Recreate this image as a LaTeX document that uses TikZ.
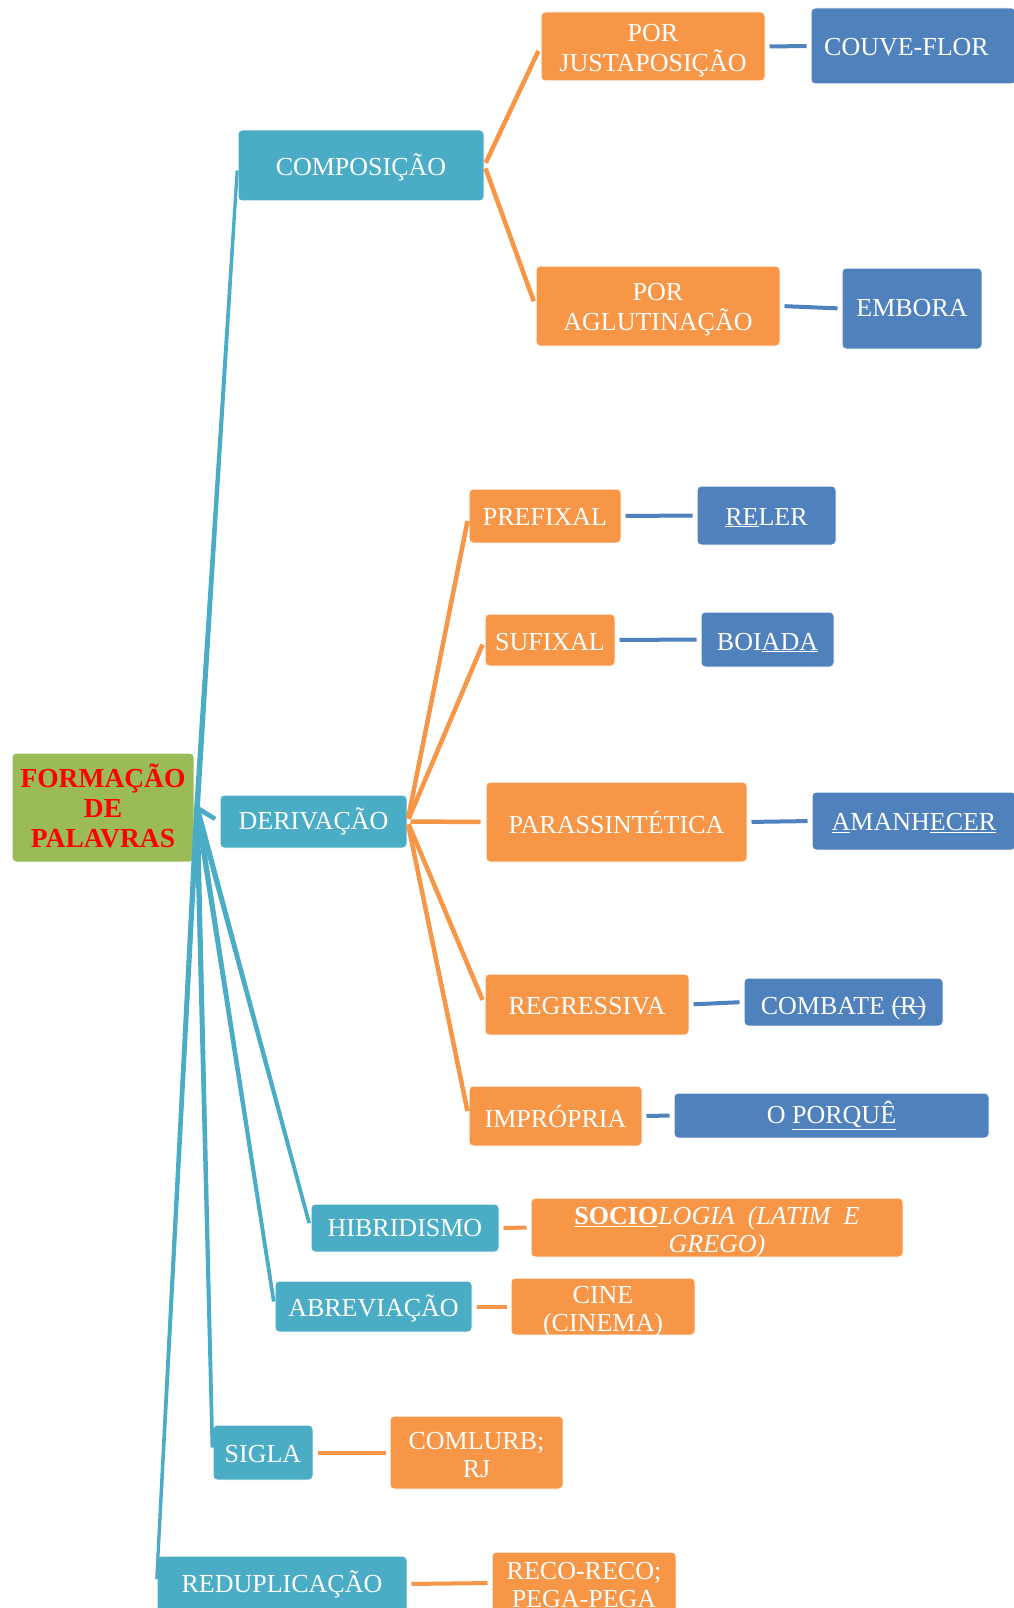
\documentclass[tikz,border=0pt]{standalone}
\usepackage{fontspec}
\setmainfont{Liberation Serif}
\usetikzlibrary{calc}
\definecolor{tealc}{HTML}{4BACC6}
\definecolor{orangec}{HTML}{F79646}
\definecolor{bluec}{HTML}{4F81BD}
\definecolor{greenc}{HTML}{9BBB59}
\definecolor{redc}{HTML}{FF0000}
\newcommand\mystrk[1]{\setbox0\hbox{#1}\rlap{\rule[0.28em]{\wd0}{0.07em}}\box0}
\newcommand\lowr[2][4pt]{\raisebox{-#1}[\height][\depth]{\begin{tabular}{@{}c@{}}#2\end{tabular}}}
% tapered connector: colour, from, to, half width at start, half width at end
\newcommand\taper[5]{%
  \coordinate (tA) at (#2);
  \coordinate (tB) at ($(#3)!5pt!(#2)$);
  \fill[#1] ($(tA)!#4!90:(tB)$) -- ($(tA)!#4!-90:(tB)$) -- ($(tB)!#5!90:(tA)$) -- ($(tB)!#5!-90:(tA)$) -- cycle;}
\tikzset{
  basebox/.style={rounded corners=4pt, draw=white, line width=1pt, text=white,
    inner sep=0pt, align=center, font=\fontsize{26}{28}\selectfont},
  tealbox/.style={basebox, fill=tealc},
  orbox/.style={basebox, fill=orangec},
  bluebox/.style={basebox, fill=bluec},
  rootbox/.style={basebox, fill=greenc, text=redc, font=\fontsize{27.5}{30}\selectfont\bfseries},
  oline/.style={draw=orangec, line width=4.5pt, shorten >=5pt, shorten <=3pt},
  bline/.style={draw=bluec, line width=4pt, shorten >=4pt, shorten <=4pt},
  ocon/.style={draw=orangec, line width=4pt, shorten >=4pt, shorten <=4pt},
}
\begin{document}
\begin{tikzpicture}[x=1pt,y=-1pt]
\useasboundingbox[fill=white] (0,0) rectangle (1014,1608);

% root
\node[rootbox, minimum width=182pt, minimum height=109pt] (root) at (103,807.5) {\lowr[3pt]{FORMAÇÃO\\DE\\PALAVRAS}};

% teal level
\node[tealbox, minimum width=246pt, minimum height=71pt] (comp) at (361,165.5) {\lowr[3pt]{COMPOSIÇÃO}};
\node[tealbox, minimum width=187pt, minimum height=53pt] (deriv) at (313.5,821.5) {DERIVAÇÃO};
\node[tealbox, minimum width=188pt, minimum height=48pt] (hib) at (405,1228) {HIBRIDISMO};
\node[tealbox, minimum width=197pt, minimum height=51pt] (abrev) at (373.5,1306.5) {\lowr[3pt]{ABREVIAÇÃO}};
\node[tealbox, minimum width=100pt, minimum height=55pt] (sigla) at (263,1452.5) {\lowr[4pt]{SIGLA}};
\node[tealbox, minimum width=250pt, minimum height=56pt] (redup) at (282,1584) {REDUPLICAÇÃO};

% orange level
\node[orbox, minimum width=224pt, minimum height=69pt] (justa) at (653,46.5) {\lowr{POR\\JUSTAPOSIÇÃO}};
\node[orbox, minimum width=244pt, minimum height=80pt] (aglu) at (658,306) {\lowr{POR\\AGLUTINAÇÃO}};
\node[orbox, minimum width=152pt, minimum height=54pt] (pref) at (545,516) {\lowr[4pt]{PREFIXAL}};
\node[orbox, minimum width=130pt, minimum height=52pt] (suf) at (550,640) {\lowr[5pt]{SUFIXAL}};
\node[orbox, minimum width=261pt, minimum height=80pt] (para) at (616.5,822) {PARASSINTÉTICA};
\node[orbox, minimum width=204pt, minimum height=61pt] (regr) at (587,1004.5) {\lowr[4pt]{REGRESSIVA}};
\node[orbox, minimum width=173pt, minimum height=60pt] (impr) at (555.5,1116) {IMPRÓPRIA};
\node[orbox, minimum width=372pt, minimum height=59pt] (socio) at (717,1227.5)
  {\lowr[5pt]{\underline{\textbf{SOCIO}}\textit{LOGIA\ \ (LATIM\ \ E}\\\textit{GREGO)}}};
\node[orbox, minimum width=184pt, minimum height=57pt] (cine) at (603,1306.5) {\lowr[5pt]{CINE\\(CINEMA)}};
\node[orbox, minimum width=173pt, minimum height=73pt] (comlurb) at (476.5,1452.5) {\lowr[5pt]{COMLURB;\\RJ}};
\node[orbox, minimum width=184pt, minimum height=62pt] (reco) at (584,1583) {\lowr[5pt]{RECO-RECO;\\PEGA-PEGA}};

% blue level
\node[bluebox, minimum width=205pt, minimum height=76pt] (couve) at (913.5,46) {\lowr[4pt]{\hspace*{-14pt}COUVE-FLOR}};
\node[bluebox, minimum width=140pt, minimum height=81pt] (embora) at (912,308.5) {EMBORA};
\node[bluebox, minimum width=139pt, minimum height=59pt] (reler) at (766.5,515.5) {\lowr[4pt]{\underline{RE}LER}};
\node[bluebox, minimum width=133pt, minimum height=55pt] (boiada) at (767.5,639.5) {\lowr[5pt]{BOI\underline{ADA}}};
\node[bluebox, minimum width=204pt, minimum height=58pt] (amanh) at (914,821) {\lowr[4pt]{\underline{A}MANH\underline{ECER}}};
\node[bluebox, minimum width=199pt, minimum height=48pt] (combate) at (843.5,1002) {\lowr[7pt]{COMBATE \mystrk{(R)}}};
\node[bluebox, minimum width=315pt, minimum height=45pt] (porque) at (831.5,1115.5) {O \underline{PORQUÊ}};

% hub
\coordinate (hub) at (197,808);

% teal connectors (tapered)
\taper{tealc}{hub}{comp.west}{2.8pt}{1.6pt}
\taper{tealc}{hub}{deriv.west}{2.6pt}{2.2pt}
\taper{tealc}{hub}{hib.west}{2.8pt}{1.8pt}
\taper{tealc}{hub}{abrev.west}{2.8pt}{1.8pt}
\taper{tealc}{hub}{sigla.west}{2.8pt}{1.8pt}
\taper{tealc}{hub}{redup.west}{2.8pt}{1.6pt}

% orange fans
\draw[oline] (comp.east) -- (justa.west);
\draw[oline] (comp.east) -- (aglu.west);
\draw[oline] (deriv.east) -- (pref.west);
\draw[oline] (deriv.east) -- (suf.west);
\draw[oline] (deriv.east) -- (para.west);
\draw[oline] (deriv.east) -- (regr.west);
\draw[oline] (deriv.east) -- (impr.west);

% blue connectors
\draw[bline] (justa.east) -- (couve.west);
\draw[bline] (aglu.east) -- (embora.west);
\draw[bline] (pref.east) -- (reler.west);
\draw[bline] (suf.east) -- (boiada.west);
\draw[bline] (para.east) -- (amanh.west);
\draw[bline] (regr.east) -- (combate.west);
\draw[bline] (impr.east) -- (porque.west);

% orange short connectors
\draw[ocon] (hib.east) -- (socio.west);
\draw[ocon] (abrev.east) -- (cine.west);
\draw[ocon] (sigla.east) -- (comlurb.west);
\draw[ocon] (redup.east) -- (reco.west);
\end{tikzpicture}
\end{document}
